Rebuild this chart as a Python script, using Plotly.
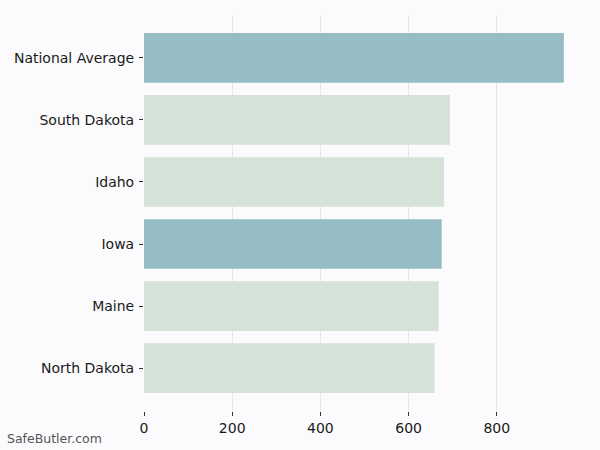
import plotly.graph_objects as go

states = ['National Average', 'South Dakota', 'Idaho', 'Iowa', 'Maine', 'North Dakota']
costs = [952, 694, 680, 675, 668, 659]
highlight = ['National Average', 'Iowa']

blue = '#96bcc4'
green = '#d4e2d8'
colors = [blue if s in highlight else green for s in states]

fig = go.Figure(go.Bar(
    x=costs,
    y=states,
    orientation='h',
    marker=dict(color=colors, line=dict(width=0)),
    width=0.8,
))

fig.update_layout(
    width=600,
    height=450,
    paper_bgcolor='#fbfbfd',
    plot_bgcolor='#fbfbfd',
    margin=dict(l=144, r=15, t=15, b=39),
    font=dict(family='DejaVu Sans', size=14, color='#1a1a1a'),
    showlegend=False,
    bargap=0.2,
)
fig.update_xaxes(
    range=[0, 1000],
    tickvals=[0, 200, 400, 600, 800],
    showgrid=True,
    gridcolor='#e6e6e8',
    gridwidth=1,
    zeroline=False,
    showline=False,
    ticks='outside',
    ticklen=4,
    tickcolor='#333333',
)
fig.update_yaxes(
    categoryorder='array',
    categoryarray=states,
    range=[5.69, -0.69],
    showgrid=False,
    zeroline=False,
    showline=False,
    ticks='outside',
    ticklen=4,
    tickcolor='#333333',
    ticklabelstandoff=2,
)
fig.add_annotation(
    text='SafeButler.com',
    xref='paper', yref='paper',
    x=-144 / 441, y=-39 / 396,
    xanchor='left', yanchor='bottom',
    xshift=5, yshift=2,
    showarrow=False,
    font=dict(size=12.5, color='#555555'),
)

# the page's default body margin would push the chart off the window
fig.write_html('out.html', config={'displayModeBar': False},
               post_script="document.body.style.margin='0';")
